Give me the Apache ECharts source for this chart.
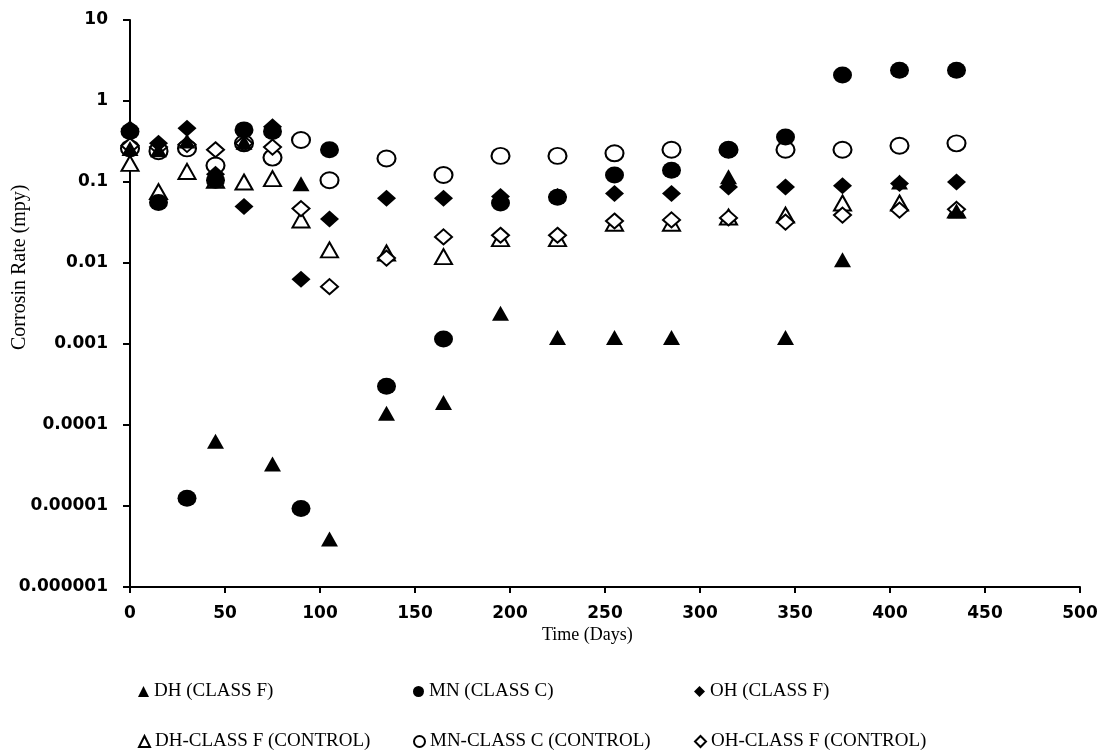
<!DOCTYPE html>
<html>
<head>
<meta charset="utf-8">
<script src="https://cdn.jsdelivr.net/npm/echarts@6/dist/echarts.min.js"></script>
<style>
  html, body { margin: 0; padding: 0; background: #fff; }
  #chart { width: 1108px; height: 756px; }
</style>
</head>
<body>
<div id="chart"></div>
<script>
// sampling days
var days = [0, 15, 30, 45, 60, 75, 90, 105, 135, 165, 195, 225, 255, 285, 315, 345, 375, 405, 435];

// corrosion rate (mpy)
var dhClassF  = [0.26, 0.25, 0.32, 0.000063, 0.31, 0.000033, 0.095, 0.0000039, 0.00014, 0.00019, 0.0024, 0.0012, 0.0012, 0.0012, 0.116, 0.0012, 0.011, 0.1, 0.044];
var mnClassC  = [0.42, 0.056, 0.0000125, 0.105, 0.44, 0.42, 0.0000093, 0.25, 0.0003, 0.00115, 0.055, 0.065, 0.122, 0.14, 0.25, 0.36, 2.1, 2.4, 2.4];
var ohClassF  = [0.45, 0.30, 0.46, 0.125, 0.05, 0.48, 0.0063, 0.035, 0.063, 0.063, 0.066, 0.066, 0.072, 0.072, 0.087, 0.087, 0.09, 0.096, 0.1];
var dhControl = [0.17, 0.076, 0.135, 0.105, 0.1, 0.11, 0.034, 0.0145, 0.0133, 0.012, 0.02, 0.02, 0.031, 0.031, 0.037, 0.039, 0.055, 0.055, 0.045];
var mnControl = [0.26, 0.24, 0.26, 0.16, 0.3, 0.2, 0.33, 0.105, 0.195, 0.122, 0.21, 0.21, 0.226, 0.25, 0.25, 0.25, 0.25, 0.28, 0.30];
var ohControl = [0.28, 0.27, 0.29, 0.25, 0.3, 0.27, 0.047, 0.0051, 0.0115, 0.021, 0.022, 0.022, 0.033, 0.034, 0.036, 0.032, 0.039, 0.045, 0.046];

var yTickLabels = ['0.000001', '0.00001', '0.0001', '0.001', '0.01', '0.1', '1', '10'];

var names = ['DH (CLASS F)', 'MN (CLASS C)', 'OH (CLASS F)',
             'DH-CLASS F (CONTROL)', 'MN-CLASS C (CONTROL)', 'OH-CLASS F (CONTROL)'];

function pairs (vals) {
  return days.map(function (d, i) { return [d, vals[i]] })
}

var serif = 'Liberation Serif'
var labelFont = 'DejaVu Sans'

function filled (name, vals, symbol, size) {
  return {
    name: name, type: 'scatter', z: 3,
    symbol: symbol, symbolSize: size,
    itemStyle: { color: '#000', opacity: 1 },
    data: pairs(vals)
  }
}
function hollow (name, vals, symbol, size) {
  return {
    name: name, type: 'scatter', z: 2,
    symbol: symbol, symbolSize: size,
    itemStyle: { color: '#fff', borderColor: '#000', borderWidth: 2, opacity: 1 },
    data: pairs(vals)
  }
}

// one legend per entry so the two rows line up in fixed columns
var legendText = { fontFamily: serif, fontSize: 19, color: '#000' }
function legendItem (left, top, name) {
  return {
    left: left, top: top, padding: 0,
    itemWidth: 11, itemHeight: 11, textStyle: legendText,
    data: [name]
  }
}

var chart = echarts.init(document.getElementById('chart'))
var option = {
  backgroundColor: '#fff',
  animation: false,
  grid: { left: 130, right: 28, top: 20, bottom: 169 },
  xAxis: {
    type: 'value', min: 0, max: 500, interval: 50,
    axisLine: { lineStyle: { color: '#000', width: 2 } },
    axisTick: { show: true, inside: false, length: 6, lineStyle: { color: '#000', width: 2 } },
    axisLabel: { color: '#000', fontFamily: labelFont, fontWeight: 'bold', fontSize: 17, margin: 18 },
    splitLine: { show: false }
  },
  yAxis: {
    type: 'log', logBase: 10, min: 0.000001, max: 10,
    axisLine: { show: true, lineStyle: { color: '#000', width: 2 } },
    axisTick: { show: true, inside: false, length: 7, lineStyle: { color: '#000', width: 2 } },
    axisLabel: {
      color: '#000', fontFamily: labelFont, fontWeight: 'bold', fontSize: 17, margin: 22,
      formatter: function (v) { return yTickLabels[Math.round(Math.log10(v)) + 6] }
    },
    splitLine: { show: false }
  },
  legend: [
    legendItem(138, 682, names[0]),
    legendItem(413, 682, names[1]),
    legendItem(694, 682, names[2]),
    legendItem(138, 732, names[3]),
    legendItem(413, 732, names[4]),
    legendItem(694, 732, names[5])
  ],
  graphic: [
    { type: 'text', left: 542, top: 626,
      style: { text: 'Time (Days)', font: '18px "Liberation Serif"', fill: '#000' } },
    { type: 'text', x: 10, y: 350, rotation: Math.PI / 2,
      style: { text: 'Corrosin Rate (mpy)', font: '20px "Liberation Serif"', fill: '#000' } }
  ],
  series: [
    hollow(names[3], dhControl, 'triangle', [17, 15]),
    hollow(names[4], mnControl, 'circle', [18, 16]),
    hollow(names[5], ohControl, 'diamond', [17, 15]),
    filled(names[0], dhClassF, 'triangle', [17, 15]),
    filled(names[1], mnClassC, 'circle', [19, 17]),
    filled(names[2], ohClassF, 'diamond', [19, 17])
  ]
}
chart.setOption(option)
</script>
</body>
</html>
